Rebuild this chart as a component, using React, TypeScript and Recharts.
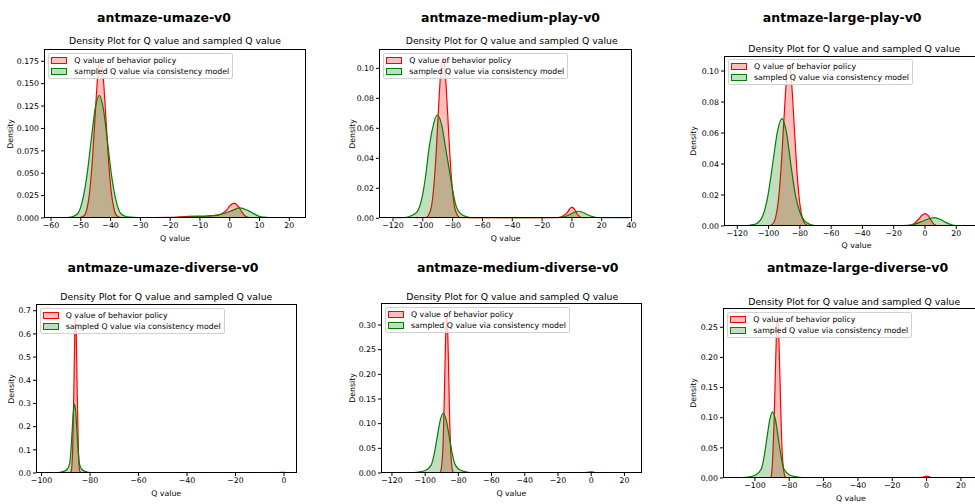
import React from "react";
import { ComposedChart, Area, XAxis, YAxis } from "recharts";

type Pt = [number, number];

// density curves, [Q value, density]
const umazeRed: Pt[] = [
  [-55, 0], [-51, 0.0002], [-49, 0.0023], [-48, 0.0095], [-47, 0.0298], [-46, 0.0698], [-45, 0.1248],
  [-44.2, 0.1629], [-43.4, 0.178], [-42.6, 0.1629], [-41.8, 0.1248], [-40.8, 0.0698], [-39.8, 0.0298],
  [-38.8, 0.0095], [-37.8, 0.0023], [-36, 0.0003], [-30, 0.0002], [-20, 0.0006], [-14, 0.0018], [-8, 0.0022],
  [-4, 0.003], [-2.5, 0.005], [-1, 0.009], [0, 0.0135], [1.5, 0.0167], [3, 0.0125], [4.2, 0.006],
  [5.5, 0.0015], [7, 0.0002], [10, 0],
];
const umazeGreen: Pt[] = [
  [-58, 0], [-55, 0.0003], [-53, 0.0012], [-51, 0.005], [-49.5, 0.0185], [-48, 0.046], [-46.5, 0.087],
  [-45.2, 0.1215], [-43.8, 0.137], [-42.4, 0.1215], [-41.1, 0.087], [-39.6, 0.046], [-38.1, 0.0185],
  [-36.6, 0.005], [-34.5, 0.0012], [-30, 0.0003], [-20, 0.0005], [-12, 0.0012], [-6, 0.0025], [-2, 0.005],
  [1, 0.0085], [3.3, 0.0112], [6, 0.0085], [8.5, 0.004], [10.5, 0.0012], [14, 0.0002], [21.5, 0],
];

const mplayRed: Pt[] = [
  [-105, 0], [-98, 0.0005], [-95, 0.0047], [-93, 0.0172], [-91, 0.0447], [-89.5, 0.0727], [-88, 0.0973],
  [-86.5, 0.1073], [-85, 0.0973], [-83.5, 0.0727], [-82, 0.0447], [-80, 0.0172], [-78, 0.0047],
  [-75, 0.0005], [-70, 0], [-20, 0], [-10, 0.0003], [-6, 0.0015], [-3, 0.004], [-1.5, 0.0063], [0, 0.0075],
  [1.5, 0.0063], [3, 0.0037], [5, 0.0012], [7, 0.0002], [10, 0],
];
const mplayGreen: Pt[] = [
  [-120, 0], [-112, 0.0005], [-108.2, 0.0015], [-103.7, 0.0045], [-100.4, 0.0144], [-98.2, 0.0277],
  [-96, 0.0455], [-93.7, 0.0589], [-90.4, 0.0689], [-87.1, 0.0611], [-84.9, 0.0478], [-82.6, 0.0344],
  [-80.4, 0.0211], [-78.2, 0.01], [-74.9, 0.0033], [-70, 0.0008], [-64, 0.0001], [-30, 0], [-14, 0.0002],
  [-6, 0.0008], [-2, 0.0022], [1, 0.0037], [4.5, 0.0047], [8, 0.0037], [11, 0.0022], [15, 0.0008],
  [20, 0.0001], [38, 0],
];

const lplayRed: Pt[] = [
  [-106, 0], [-100, 0.0001], [-97.5, 0.0012], [-95.75, 0.0046], [-94, 0.0141], [-92.25, 0.0338],
  [-90.5, 0.0631], [-88.75, 0.0918], [-87, 0.104], [-85.25, 0.0918], [-83.5, 0.0631], [-81.75, 0.0338],
  [-80, 0.0141], [-78.25, 0.0046], [-76.5, 0.0012], [-74, 0.0001], [-70, 0], [-20, 0], [-11, 0.0003],
  [-7, 0.0015], [-4, 0.0045], [-2, 0.0068], [0, 0.008], [2, 0.0068], [4, 0.0035], [6, 0.001], [9, 0.0001],
  [12, 0],
];
const lplayGreen: Pt[] = [
  [-120, 0], [-112, 0.0005], [-107.8, 0.0015], [-103.6, 0.0069], [-100.4, 0.0198], [-97.2, 0.0413],
  [-94.4, 0.0606], [-91.4, 0.0693], [-88.6, 0.0606], [-85.4, 0.037], [-82.8, 0.0198], [-80, 0.009],
  [-75.8, 0.0022], [-70.6, 0.0003], [-60, 0], [-30, 0], [-14, 0.0002], [-8, 0.0008], [-3, 0.0025],
  [1, 0.0042], [6, 0.0054], [10, 0.0042], [13, 0.0025], [17, 0.0008], [22, 0.0001], [40, 0],
];

const udivRed: Pt[] = [
  [-98, 0], [-90, 0], [-88.4, 0.0005], [-87.8, 0.0075], [-87.2, 0.092], [-86.6, 0.412], [-86.3, 0.6],
  [-86, 0.68], [-85.7, 0.6], [-85.4, 0.412], [-84.8, 0.092], [-84.2, 0.0075], [-83.6, 0.0005], [-80, 0],
  [-40, 0], [-10, 0.0005], [-2, 0.002], [0, 0.003], [1.5, 0],
];
const udivGreen: Pt[] = [
  [-98, 0], [-95, 0.0008], [-93, 0.002], [-91, 0.007], [-89.5, 0.015], [-88.4, 0.04], [-87.9, 0.0965],
  [-87.4, 0.18], [-86.9, 0.262], [-86.4, 0.297], [-85.9, 0.262], [-85.4, 0.18], [-84.9, 0.0965],
  [-84.4, 0.04], [-83.4, 0.015], [-82, 0.007], [-80, 0.002], [-77, 0],
];

const mdivRed: Pt[] = [
  [-95, 0], [-91, 0.0003], [-90.6, 0.0036], [-89.4, 0.0437], [-88.8, 0.105], [-88.2, 0.196], [-87.6, 0.285],
  [-87, 0.323], [-86.4, 0.285], [-85.8, 0.196], [-85.2, 0.105], [-84.6, 0.0437], [-83.4, 0.0036],
  [-82.5, 0.0003], [-78, 0], [-10, 0], [-3, 0.001], [0, 0.0025], [3, 0],
];
const mdivGreen: Pt[] = [
  [-120, 0], [-110, 0.0005], [-104, 0.002], [-100, 0.005], [-96.3, 0.0165], [-94.5, 0.0395], [-92.7, 0.0738],
  [-90.9, 0.107], [-89.1, 0.1216], [-87.3, 0.107], [-85.5, 0.0738], [-83.7, 0.0395], [-81.9, 0.0165],
  [-78.3, 0.005], [-74, 0.0015], [-70, 0.0003], [-60, 0], [24, 0],
];

const ldivRed: Pt[] = [
  [-95, 0], [-91, 0.0005], [-90.5, 0.003], [-89.6, 0.036], [-88.9, 0.087], [-88.2, 0.1625], [-87.5, 0.2365],
  [-86.8, 0.268], [-86.1, 0.2365], [-85.4, 0.1625], [-84.7, 0.087], [-84, 0.036], [-82.6, 0.003],
  [-82, 0.0005], [-78, 0], [-10, 0], [-3, 0.001], [0, 0.003], [3, 0],
];
const ldivGreen: Pt[] = [
  [-112, 0], [-104, 0.0015], [-99.6, 0.005], [-96.3, 0.0148], [-94.65, 0.0356], [-93, 0.0665],
  [-91.35, 0.0967], [-89.7, 0.1096], [-88.05, 0.0967], [-86.4, 0.0665], [-84.75, 0.0356], [-83.1, 0.0148],
  [-79.8, 0.005], [-75, 0.0015], [-70, 0.0003], [-60, 0], [25, 0],
];

// ticks
const xTicksUmaze = [-60, -50, -40, -30, -20, -10, 0, 10, 20];
const xTicksMedPlay = [-120, -100, -80, -60, -40, -20, 0, 20, 40];
const xTicksLargePlay = [-120, -100, -80, -60, -40, -20, 0, 20];
const xTicksUmazeDiv = [-100, -80, -60, -40, -20, 0];
const xTicksMedDiv = [-120, -100, -80, -60, -40, -20, 0, 20];
const xTicksLargeDiv = [-100, -80, -60, -40, -20, 0, 20];

const yTicksUmaze = [0, 0.025, 0.05, 0.075, 0.1, 0.125, 0.15, 0.175];
const yTicksMedPlay = [0, 0.02, 0.04, 0.06, 0.08, 0.1];
const yTicksLargePlay = [0, 0.02, 0.04, 0.06, 0.08, 0.1];
const yTicksUmazeDiv = [0, 0.1, 0.2, 0.3, 0.4, 0.5, 0.6, 0.7];
const yTicksMedDiv = [0, 0.05, 0.1, 0.15, 0.2, 0.25, 0.3];
const yTicksLargeDiv = [0, 0.05, 0.1, 0.15, 0.2, 0.25];

const FONT = "'DejaVu Sans', sans-serif";
const YW = 40, XH = 25, MT = 10, MR = 12;
const SUB = "Density Plot for Q value and sampled Q value";

const merge = (red: Pt[], green: Pt[]) => {
  const m = new Map<number, { x: number; red?: number; green?: number }>();
  red.forEach(([x, y]) => { const r = m.get(x) ?? { x }; r.red = y; m.set(x, r); });
  green.forEach(([x, y]) => { const r = m.get(x) ?? { x }; r.green = y; m.set(x, r); });
  return [...m.values()].sort((a, b) => a.x - b.x);
};

const minus = (s: string) => s.replace("-", "\u2212");

const panels = [
  { title: "antmaze-umaze-v0", tx: 164, ty: 16.7, sx: 175, sy: 40.3, L: 44.3, T: 49, W: 261.4, H: 169,
    xd: [-62.35, 25.4], xt: xTicksUmaze, yd: [0, 0.1887], yt: yTicksUmaze, dec: 3, dx: 10, red: umazeRed, green: umazeGreen },
  { title: "antmaze-medium-play-v0", tx: 510.5, ty: 16.7, sx: 511.7, sy: 40.3, L: 379.3, T: 49, W: 252.7, H: 169.3,
    xd: [-129.4, 40.1], xt: xTicksMedPlay, yd: [0, 0.1129], yt: yTicksMedPlay, dec: 2, dx: 351.7, red: mplayRed, green: mplayGreen },
  { title: "antmaze-large-play-v0", tx: 842.2, ty: 16.7, sx: 854.3, sy: 48.3, L: 724, T: 55.7, W: 265.1, H: 170,
    xd: [-128.5, 41], xt: xTicksLargePlay, yd: [0, 0.1097], yt: yTicksLargePlay, dec: 2, dx: 693.3, red: lplayRed, green: lplayGreen },
  { title: "antmaze-umaze-diverse-v0", tx: 163, ty: 266.7, sx: 166.3, sy: 296, L: 35.7, T: 304.3, W: 261, H: 169,
    xd: [-102.3, 5.36], xt: xTicksUmazeDiv, yd: [0, 0.729], yt: yTicksUmazeDiv, dec: 1, dx: 10.7, red: udivRed, green: udivGreen },
  { title: "antmaze-medium-diverse-v0", tx: 517.8, ty: 267.3, sx: 512.2, sy: 296, L: 381, T: 303.3, W: 260.7, H: 170,
    xd: [-126.6, 30.4], xt: xTicksMedDiv, yd: [0, 0.3446], yt: yTicksMedDiv, dec: 2, dx: 351.7, red: mdivRed, green: mdivGreen },
  { title: "antmaze-large-diverse-v0", tx: 857.5, ty: 267.3, sx: 854.2, sy: 301, L: 723.3, T: 308.3, W: 255.1, H: 170,
    xd: [-118.6, 30], xt: xTicksLargeDiv, yd: [0, 0.282], yt: yTicksLargeDiv, dec: 2, dx: 693.3, red: ldivRed, green: ldivGreen },
];

const centered = (x: number, y: number, extra: React.CSSProperties = {}): React.CSSProperties => ({
  position: "absolute", left: x, top: y, transform: "translate(-50%, -50%)", whiteSpace: "nowrap", color: "#000", ...extra,
});

const LegendBox = ({ left, top }: { left: number; top: number }) => {
  const patch = (c: string, f: string) => (
    <span style={{ display: "inline-block", width: 14, height: 5, border: `1px solid ${c}`, background: f, marginRight: 7 }} />
  );
  return (
    <div style={{ position: "absolute", left, top, background: "rgba(255,255,255,0.8)", border: "1px solid #d2d2d2",
      borderRadius: 2, padding: "1px 3px 1px 2px", fontSize: 7.8, lineHeight: "11px", color: "#000", whiteSpace: "nowrap" }}>
      <div style={{ display: "flex", alignItems: "center" }}>{patch("#ff0000", "rgba(255,0,0,0.25)")}Q value of behavior policy</div>
      <div style={{ display: "flex", alignItems: "center" }}>{patch("#008000", "rgba(0,128,0,0.25)")}sampled Q value via consistency model</div>
    </div>
  );
};

const Panel = ({ p }: { p: (typeof panels)[number] }) => {
  const rows = merge(p.red, p.green);
  const tick = { fontSize: 7.8, fill: "#000", fontFamily: FONT };
  return (
    <>
      <div style={centered(p.tx, p.ty, { fontSize: 12.5, fontWeight: "bold" })}>{p.title}</div>
      <div style={centered(p.sx, p.sy, { fontSize: 9.3 })}>{SUB}</div>
      <div style={{ position: "absolute", left: p.L - YW, top: p.T - MT }}>
        <ComposedChart width={YW + p.W + MR} height={MT + p.H + XH} data={rows}
          margin={{ top: MT, right: MR, bottom: 0, left: 0 }}>
          <XAxis type="number" dataKey="x" domain={p.xd} ticks={p.xt} allowDataOverflow interval={0}
            height={XH} tickSize={3} tickMargin={1} axisLine={false} tickLine={{ stroke: "#000" }} tick={tick}
            tickFormatter={(v: number) => minus(String(v))} />
          <YAxis type="number" domain={p.yd} ticks={p.yt} allowDataOverflow interval={0} width={YW}
            tickSize={3} tickMargin={2} axisLine={false} tickLine={{ stroke: "#000" }} tick={tick}
            tickFormatter={(v: number) => v.toFixed(p.dec)} />
          <Area type="monotone" dataKey="red" stroke="#ff0000" strokeWidth={1.2} fill="#ff0000" fillOpacity={0.25}
            connectNulls dot={false} activeDot={false} isAnimationActive={false} />
          <Area type="monotone" dataKey="green" stroke="#008000" strokeWidth={1.2} fill="#008000" fillOpacity={0.25}
            connectNulls dot={false} activeDot={false} isAnimationActive={false} />
        </ComposedChart>
      </div>
      <div style={{ position: "absolute", left: p.L, top: p.T, width: p.W, height: p.H, border: "1px solid #000",
        boxSizing: "border-box", pointerEvents: "none" }} />
      <LegendBox left={p.L + 4} top={p.T + 3.5} />
      <div style={centered(p.L + p.W / 2, p.T + p.H + 19.6, { fontSize: 7.8 })}>Q value</div>
      <div style={centered(p.dx, p.T + p.H / 2, { fontSize: 7.8, transform: "translate(-50%, -50%) rotate(-90deg)" })}>Density</div>
    </>
  );
};

export default function App() {
  return (
    <div style={{ position: "absolute", left: 0, top: 0, width: 975, height: 504, overflow: "hidden",
      background: "#fff", fontFamily: FONT }}>
      {panels.map((p) => <Panel key={p.title} p={p} />)}
    </div>
  );
}
